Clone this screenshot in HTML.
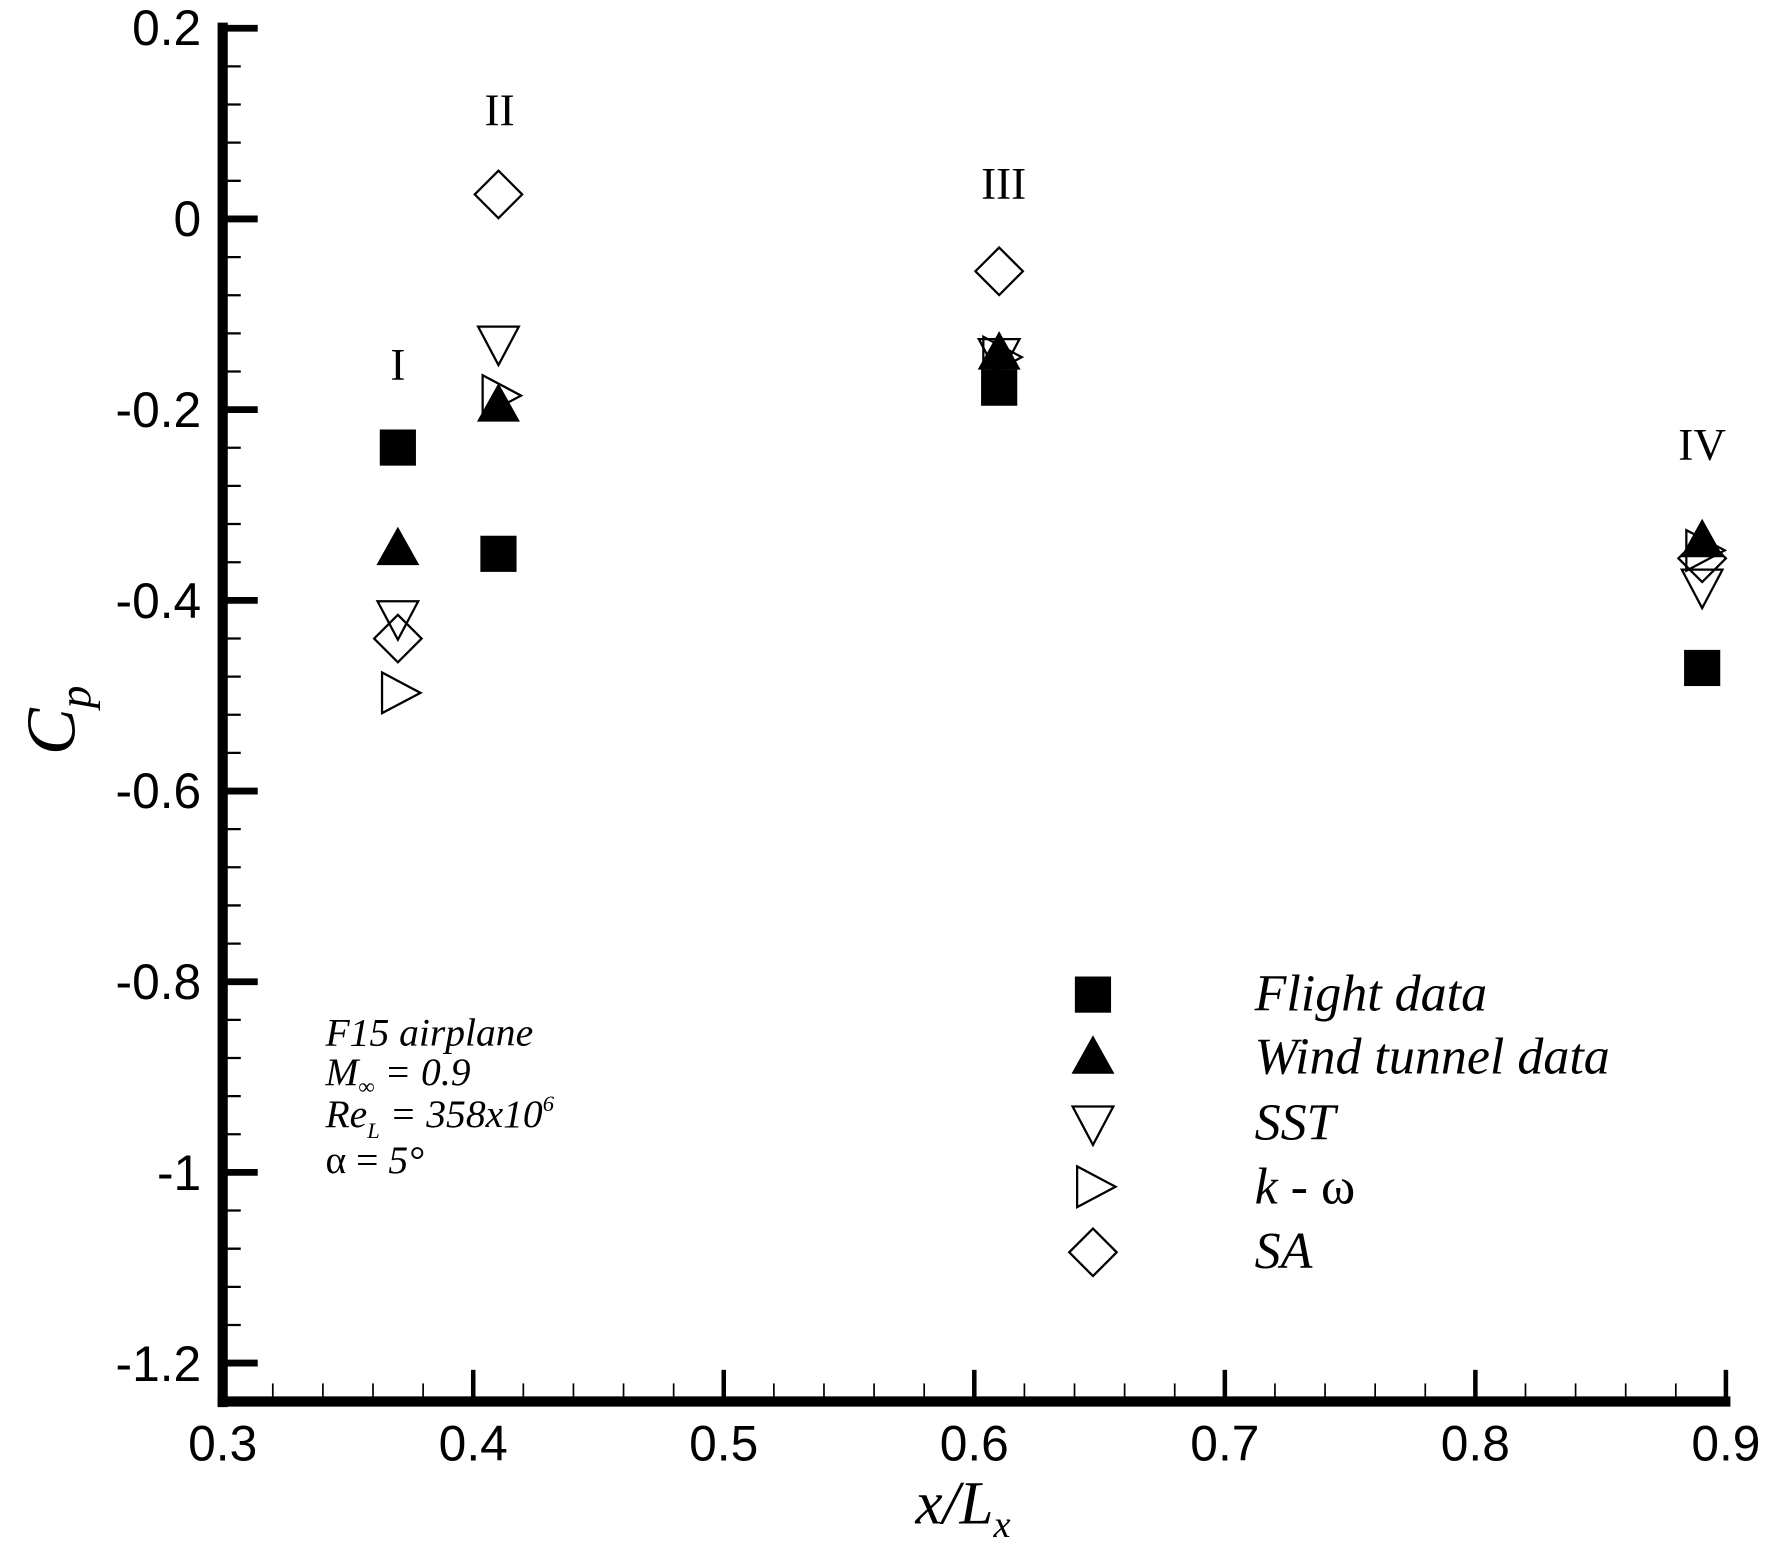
<!DOCTYPE html>
<html><head><meta charset="utf-8"><style>html,body{margin:0;padding:0;background:#fff}svg{display:block}</style></head>
<body>
<svg width="1770" height="1550" viewBox="0 0 1566 1371.4" xmlns="http://www.w3.org/2000/svg">
<g stroke="#000" fill="none">
<line x1="197" y1="20" x2="197" y2="1245" stroke-width="9"/>
<line x1="192.5" y1="1240" x2="1531" y2="1240" stroke-width="9"/>
<g stroke-width="6">
<line x1="197" y1="25" x2="228" y2="25"/>
<line x1="197" y1="193.7" x2="228" y2="193.7"/>
<line x1="197" y1="362.4" x2="228" y2="362.4"/>
<line x1="197" y1="531.2" x2="228" y2="531.2"/>
<line x1="197" y1="699.9" x2="228" y2="699.9"/>
<line x1="197" y1="868.6" x2="228" y2="868.6"/>
<line x1="197" y1="1037.3" x2="228" y2="1037.3"/>
<line x1="197" y1="1206" x2="228" y2="1206"/>
</g>
<g stroke-width="2" id="ymin"></g>
<g stroke-width="4" id="xmaj"></g>
<g stroke-width="1.5" id="xmin"></g>
</g>
<g font-family="Liberation Sans, sans-serif" font-size="44" text-anchor="end">
<text x="178" y="40">0.2</text>
<text x="178" y="209">0</text>
<text x="178" y="378">-0.2</text>
<text x="178" y="547">-0.4</text>
<text x="178" y="715">-0.6</text>
<text x="178" y="884">-0.8</text>
<text x="178" y="1053">-1</text>
<text x="178" y="1222">-1.2</text>
</g>
<g font-family="Liberation Sans, sans-serif" font-size="44" text-anchor="middle">
<text x="197" y="1292">0.3</text>
<text x="418.7" y="1292">0.4</text>
<text x="640.3" y="1292">0.5</text>
<text x="862" y="1292">0.6</text>
<text x="1083.7" y="1292">0.7</text>
<text x="1305.3" y="1292">0.8</text>
<text x="1527" y="1292">0.9</text>
</g>
<g font-family="Liberation Serif, serif" font-style="italic">
<text x="810" y="1348" font-size="54">x/L<tspan font-size="34" dy="12">x</tspan></text>
<text transform="translate(66,668) rotate(-90)" font-size="62">C<tspan font-size="40" dy="14">p</tspan></text>
</g>
<g font-family="Liberation Serif, serif" font-size="40" text-anchor="middle">
<text x="352" y="336">I</text>
<text x="442" y="111">II</text>
<text x="888" y="176">III</text>
<text x="1506" y="407">IV</text>
</g>
<g font-family="Liberation Serif, serif" font-style="italic" font-size="35">
<text x="288" y="925">F15 airplane</text>
<text x="288" y="960">M<tspan font-size="20" dy="8">∞</tspan><tspan dy="-8"> = 0.9</tspan></text>
<text x="288" y="997">Re<tspan font-size="20" dy="10">L</tspan><tspan dy="-10"> = 358x10</tspan><tspan font-size="20" dy="-14">6</tspan></text>
<text x="288" y="1038" font-style="normal">α = <tspan font-style="italic">5°</tspan></text>
</g>
<g font-family="Liberation Serif, serif" font-style="italic" font-size="46">
<text x="1110" y="894">Flight data</text>
<text x="1110" y="950">Wind tunnel data</text>
<text x="1110" y="1008">SST</text>
<text x="1110" y="1065">k - <tspan font-style="normal">ω</tspan></text>
<text x="1110" y="1122">SA</text>
</g>
<g id="marks"></g>
</svg>
<script>
(function(){
var ns="http://www.w3.org/2000/svg";
function el(p,t,a){var e=document.createElementNS(ns,t);for(var k in a)e.setAttribute(k,a[k]);p.appendChild(e);return e;}
var ymin=document.getElementById('ymin'),xmaj=document.getElementById('xmaj'),xmin=document.getElementById('xmin');
var Y=function(v){return 25+(0.2-v)*843.6;},X=function(v){return 197+(v-0.3)*2216.7;};
for(var i=0;i<=35;i++){if(i%5==0)continue;var y=Y(0.2-i*0.04);el(ymin,'line',{x1:197,y1:y,x2:213,y2:y});}
for(var i=0;i<=30;i++){var x=X(0.3+i*0.02);if(i%5==0){if(i>0)el(xmaj,'line',{x1:x,y1:1240,x2:x,y2:1212});}else el(xmin,'line',{x1:x,y1:1240,x2:x,y2:1224});}
var m=document.getElementById('marks');
function sq(x,y){el(m,'rect',{x:x-16,y:y-16,width:32,height:32,fill:'#000'});}
function tri(x,y){el(m,'polygon',{points:(x-19)+','+(y+15)+' '+(x+19)+','+(y+15)+' '+x+','+(y-19),fill:'#000'});}
function dt(x,y){el(m,'polygon',{points:(x-18)+','+(y-16)+' '+(x+18)+','+(y-16)+' '+x+','+(y+18),fill:'none',stroke:'#000','stroke-width':2});}
function rt(x,y){el(m,'polygon',{points:(x-16)+','+(y-18)+' '+(x-16)+','+(y+18)+' '+(x+18)+','+y,fill:'none',stroke:'#000','stroke-width':2});}
function di(x,y){el(m,'polygon',{points:x+','+(y-21)+' '+(x+21)+','+y+' '+x+','+(y+21)+' '+(x-21)+','+y,fill:'none',stroke:'#000','stroke-width':2});}
sq(352,396);tri(352,485);dt(352,548);di(352,565);rt(354,613);
di(441,172);dt(441,305);rt(443,350);tri(441,358);sq(441,490);
di(884,240);dt(884,316);rt(886,316);tri(884,312);sq(884,343);
dt(1506,520);rt(1508,487);di(1506,494);tri(1506,478);sq(1506,591);
sq(967,880);tri(967,935);dt(967,995);rt(969,1050);di(967,1108);
})();
</script>
</body></html>
